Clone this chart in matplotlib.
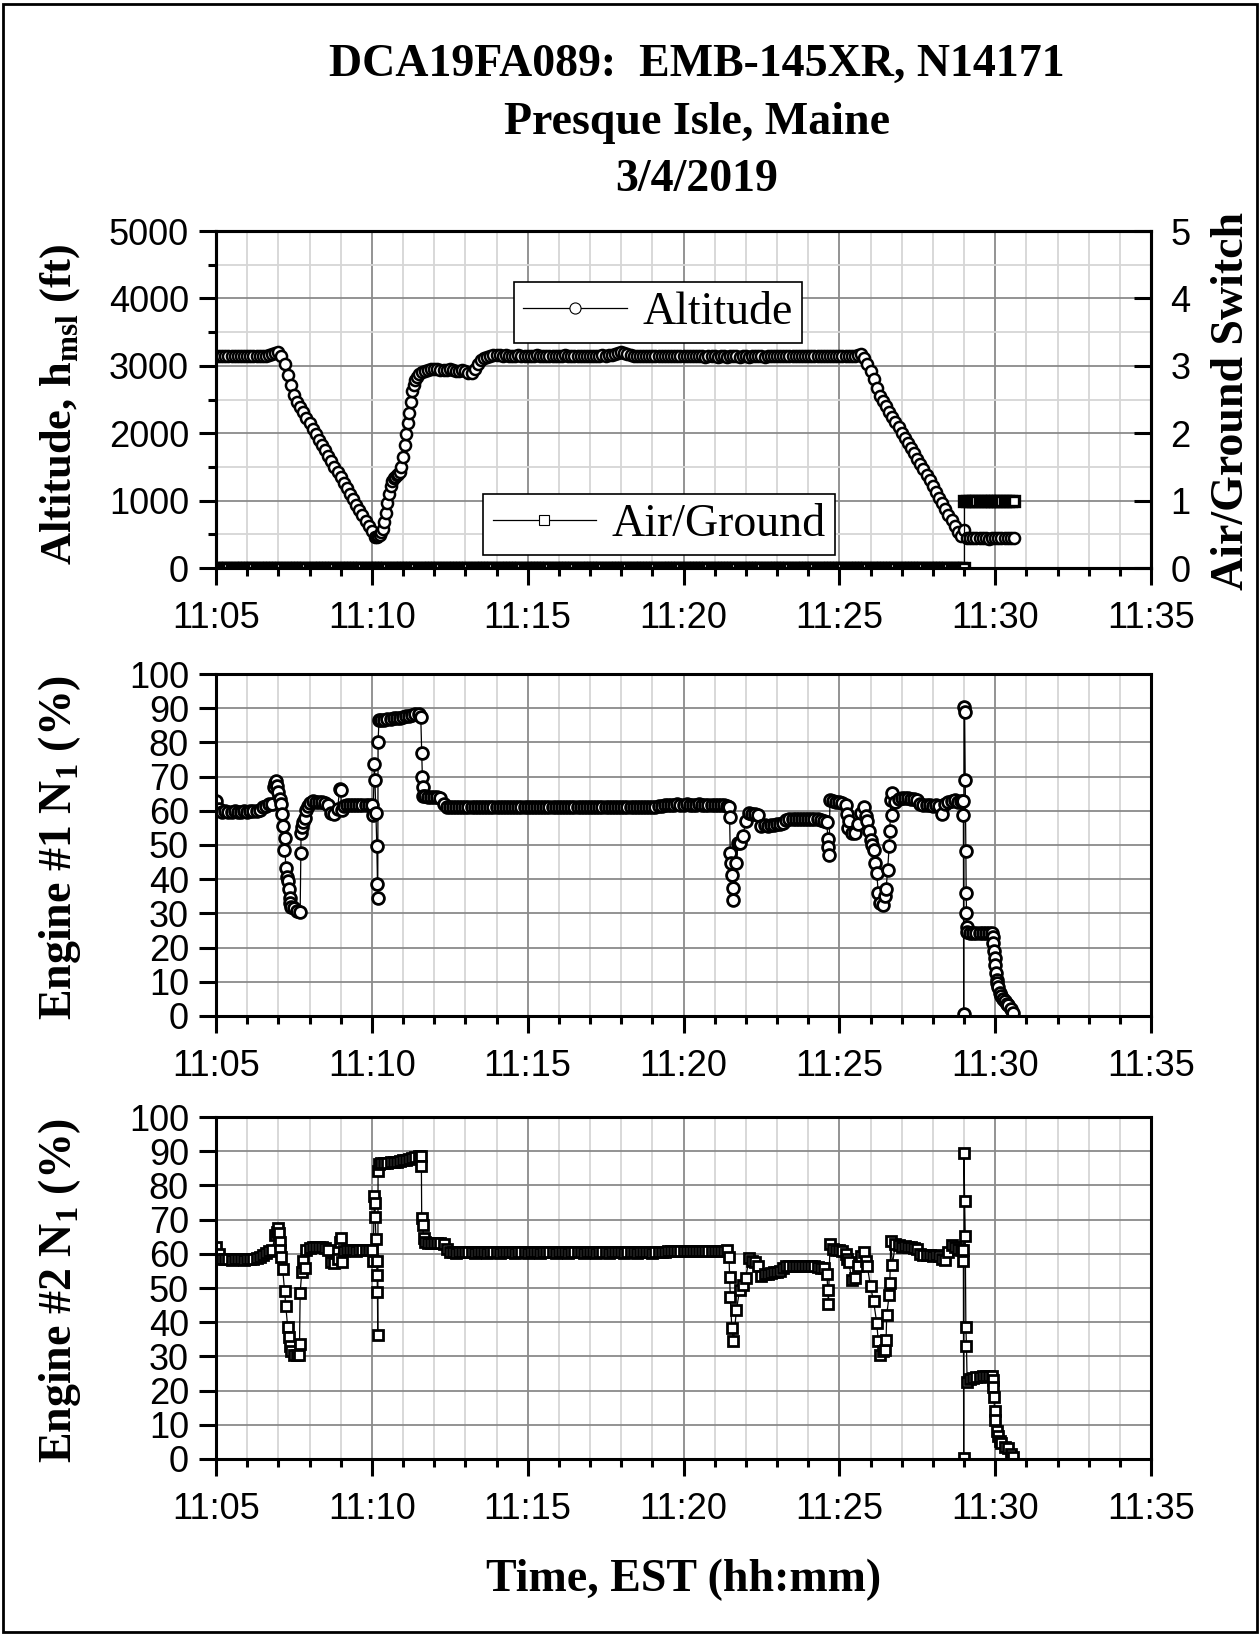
import numpy as np
import matplotlib
matplotlib.use("Agg")
import matplotlib.pyplot as plt
from matplotlib.ticker import MultipleLocator, FuncFormatter
from matplotlib.patches import Rectangle

SERIF = "Liberation Serif"
SANS = "Liberation Sans"

plt.rcParams["font.family"] = [SANS, "DejaVu Sans"]
plt.rcParams["mathtext.fontset"] = "custom"
plt.rcParams["mathtext.rm"] = SERIF + ":bold"
plt.rcParams["mathtext.bf"] = SERIF + ":bold"

# time = minutes after 11:00 EST, recorder samples every 6 s
t_alt = np.round(np.arange(50, 307) / 10.0, 2)   # 11:05:00 .. 11:30:36
t_eng = np.round(np.arange(50, 306) / 10.0, 2)   # 11:05:00 .. 11:30:30

# pressure altitude (ft)
altitude = [
    3140, 3150, 3145, 3140, 3150, 3145, 3140, 3150, 3140, 3145,   # 11:05
    3150, 3140, 3145, 3150, 3145, 3140, 3150, 3155, 3170, 3195,   # 11:06
    3205, 3150, 3020, 2870, 2710, 2560, 2470, 2390, 2315, 2230,   # 11:07
    2150, 2065, 1990, 1905, 1830, 1745, 1665, 1590, 1505, 1425,   # 11:08
    1345, 1265, 1180, 1100, 1020, 940, 860, 780, 700, 620,        # 11:09
    545, 465, 470, 530, 690, 960, 1220, 1330, 1375, 1420,         # 11:10
    1650, 1990, 2300, 2620, 2790, 2880, 2910, 2930, 2940, 2950,   # 11:11
    2955, 2950, 2940, 2935, 2945, 2950, 2940, 2930, 2925, 2935,   # 11:12
    2920, 2890, 2900, 2960, 3030, 3080, 3110, 3135, 3150, 3160,   # 11:13
    3160, 3155, 3150, 3155, 3150, 3145, 3150, 3155, 3150, 3145,   # 11:14
    3150, 3145, 3150, 3155, 3150, 3145, 3150, 3150, 3145, 3150,   # 11:15
    3145, 3150, 3155, 3150, 3145, 3150, 3145, 3150, 3150, 3145,   # 11:16
    3150, 3145, 3150, 3150, 3155, 3150, 3160, 3165, 3175, 3190,   # 11:17
    3200, 3190, 3170, 3155, 3150, 3145, 3150, 3145, 3150, 3145,   # 11:18
    3145, 3150, 3145, 3140, 3145, 3150, 3145, 3140, 3145, 3140,   # 11:19
    3145, 3140, 3145, 3140, 3140, 3145, 3140, 3135, 3140, 3145,   # 11:20
    3140, 3135, 3140, 3140, 3135, 3140, 3145, 3140, 3135, 3140,   # 11:21
    3140, 3135, 3140, 3145, 3140, 3140, 3135, 3140, 3145, 3140,   # 11:22
    3145, 3140, 3150, 3145, 3140, 3145, 3150, 3145, 3140, 3145,   # 11:23
    3150, 3145, 3140, 3145, 3150, 3145, 3140, 3145, 3150, 3145,   # 11:24
    3140, 3145, 3150, 3145, 3140, 3150, 3160, 3180, 3120, 3030,   # 11:25
    2920, 2800, 2670, 2550, 2475, 2400, 2320, 2245, 2165, 2090,   # 11:26
    2010, 1935, 1860, 1780, 1700, 1620, 1545, 1465, 1380, 1300,   # 11:27
    1215, 1130, 1045, 960, 875, 790, 705, 620, 540, 470,          # 11:28
    560, 450, 440, 445, 440, 440, 445, 440, 435, 440,             # 11:29
    440, 445, 440, 440, 440, 445, 440,                            # 11:30
]
# extra samples during the go-around climb
alt_extra_t = [10.15, 10.25, 10.35, 10.45, 10.55, 10.65, 10.75,
               10.85, 10.95, 11.05, 11.15, 11.25, 11.35, 11.45]
alt_extra_v = [462, 490, 580, 820, 1100, 1290, 1355,
               1395, 1500, 1820, 2150, 2460, 2720, 2840]

# air/ground switch, one digit per sample (0 = air, 1 = ground)
air_ground = ("0000000000 0000000000 0000000000 0000000000 0000000000 0000000000 "
              "0000000000 0000000000 0000000000 0000000000 0000000000 0000000000 "
              "0000000000 0000000000 0000000000 0000000000 0000000000 0000000000 "
              "0000000000 0000000000 0000000000 0000000000 0000000000 0000000000 "
              "11111111111111111")
ag_extra_t = [29.0]
ag_extra_v = [0]

# engine #1 N1 (%)
n1_eng1 = [
    62.8, 60.5, 59.7, 59.8, 59.6, 59.7, 59.8, 59.7, 59.6, 59.8,   # 11:05
    59.7, 59.8, 59.9, 60.0, 60.3, 61.0, 61.5, 62.0, 62.0, 68.0,   # 11:06
    65.5, 62.0, 52.0, 39.5, 32.0, 31.5, 30.8, 30.3, 56.8, 60.2,   # 11:07
    62.3, 62.8, 62.7, 62.6, 62.5, 62.3, 61.8, 59.5, 59.2, 60.5,   # 11:08
    66.0, 61.5, 61.7, 61.6, 61.7, 61.8, 61.7, 61.6, 61.7, 61.8,   # 11:09
    61.7, 69.0, 80.2, 86.6, 86.7, 86.8, 86.8, 87.0, 87.1, 87.2,   # 11:10
    87.4, 87.6, 87.8, 88.0, 88.2, 88.4, 77.0, 64.2, 64.0, 64.1,   # 11:11
    64.0, 63.9, 63.8, 62.0, 61.2, 61.1, 61.0, 61.1, 61.2, 61.1,   # 11:12
    61.0, 61.1, 61.2, 61.1, 61.0, 61.1, 61.2, 61.1, 61.0, 61.1,   # 11:13
    61.2, 61.1, 61.0, 61.1, 61.1, 61.2, 61.1, 61.0, 61.1, 61.2,   # 11:14
    61.1, 61.0, 61.1, 61.2, 61.1, 61.1, 61.0, 61.1, 61.2, 61.1,   # 11:15
    61.0, 61.1, 61.1, 61.2, 61.1, 61.0, 61.1, 61.2, 61.1, 61.1,   # 11:16
    61.1, 61.2, 61.1, 61.0, 61.1, 61.1, 61.2, 61.1, 61.0, 61.1,   # 11:17
    61.2, 61.1, 61.1, 61.0, 61.1, 61.2, 61.1, 61.1, 61.0, 61.1,   # 11:18
    61.1, 61.2, 61.3, 61.5, 61.8, 61.8, 61.7, 61.8, 61.9, 61.8,   # 11:19
    61.8, 61.9, 61.8, 61.7, 61.8, 61.9, 61.8, 61.7, 61.8, 61.8,   # 11:20
    61.8, 61.7, 61.8, 61.7, 61.5, 47.6, 34.0, 44.7, 50.5, 52.5,   # 11:21
    57.0, 59.3, 59.0, 59.2, 58.8, 55.5, 55.8, 55.7, 55.8, 55.9,   # 11:22
    56.0, 56.0, 56.5, 57.3, 57.5, 57.6, 57.5, 57.7, 57.6, 57.5,   # 11:23
    57.6, 57.7, 57.6, 57.5, 57.3, 57.0, 56.7, 63.2, 62.8, 62.6,   # 11:24
    62.5, 62.4, 61.7, 57.0, 53.4, 53.5, 56.0, 59.5, 61.2, 57.0,   # 11:25
    51.5, 48.6, 41.8, 33.0, 32.5, 37.0, 49.7, 58.8, 62.5, 63.5,   # 11:26
    63.6, 63.7, 63.6, 63.5, 63.4, 63.3, 62.0, 61.7, 61.6, 61.7,   # 11:27
    61.5, 61.6, 61.5, 59.0, 62.0, 62.5, 63.0, 63.2, 62.5, 62.8,   # 11:28
    90.5, 24.5, 24.3, 24.2, 24.3, 24.2, 24.3, 24.2, 24.3, 24.2,   # 11:29
    15.0, 8.5, 5.8, 4.4, 3.3, 2.0,                                # 11:30
]
eng1_extra_t = [6.87, 6.93, 6.97, 7.05, 7.13, 7.16, 7.19, 7.24, 7.27, 7.33, 7.36, 7.38,
                7.72, 7.73, 7.75, 7.85, 7.95, 8.97, 9.03,
                10.04, 10.08, 10.13, 10.16, 10.18, 10.19, 10.23,
                11.57, 11.62, 11.63, 11.65,
                21.45, 21.48, 21.54, 21.57, 21.59, 21.75,
                24.63, 24.65, 24.67, 25.25, 25.28,
                25.85, 25.95, 26.05, 26.15, 26.25, 26.45, 26.55, 26.62, 26.65, 26.68,
                28.97, 28.98, 28.99, 29.02, 29.04, 29.06, 29.07, 29.08, 29.09,
                29.92, 29.94, 29.96, 29.98, 30.02, 30.05, 30.07, 30.15, 30.26, 30.39, 30.58]
eng1_extra_v = [67.0, 68.6, 67.2, 63.5, 59.0, 55.6, 48.6, 43.2, 40.7, 37.0, 34.4, 32.9,
                47.6, 53.4, 55.4, 58.0, 61.5, 66.5, 60.2,
                58.8, 73.6, 59.5, 49.7, 38.5, 34.4, 86.5,
                87.5, 70.0, 67.0, 64.2,
                61.0, 58.1, 44.7, 41.3, 37.4, 50.5,
                51.8, 49.4, 47.0, 59.0, 55.0,
                58.5, 54.0, 50.0, 44.7, 35.9, 35.0, 42.8, 54.0, 63.2, 65.2,
                63.0, 58.8, 0.5, 88.8, 69.1, 48.1, 35.9, 30.0, 26.0,
                23.0, 21.4, 19.0, 17.0, 12.6, 10.5, 9.7, 6.8, 4.9, 3.4, 0.8]

# engine #2 N1 (%)
n1_eng2 = [
    62.0, 60.0, 58.4, 58.5, 58.4, 58.3, 58.4, 58.5, 58.4, 58.3,   # 11:05
    58.4, 58.5, 58.6, 58.8, 59.2, 59.8, 60.3, 60.8, 61.0, 65.5,   # 11:06
    67.5, 59.1, 49.2, 38.7, 31.5, 30.5, 30.3, 48.5, 58.0, 61.0,   # 11:07
    61.8, 62.0, 62.1, 62.0, 61.9, 61.7, 61.0, 57.5, 57.2, 58.5,   # 11:08
    64.5, 60.8, 61.0, 61.1, 61.0, 60.9, 61.0, 61.1, 61.0, 61.2,   # 11:09
    61.0, 75.0, 84.3, 86.5, 86.6, 86.7, 86.8, 86.9, 87.0, 87.1,   # 11:10
    87.3, 87.5, 87.7, 87.9, 88.2, 88.5, 70.6, 63.4, 63.3, 63.2,   # 11:11
    63.3, 63.2, 63.1, 63.0, 61.5, 60.5, 60.4, 60.3, 60.4, 60.5,   # 11:12
    60.4, 60.5, 60.4, 60.3, 60.4, 60.5, 60.4, 60.3, 60.4, 60.5,   # 11:13
    60.4, 60.3, 60.4, 60.5, 60.4, 60.4, 60.3, 60.4, 60.5, 60.4,   # 11:14
    60.3, 60.4, 60.5, 60.4, 60.3, 60.4, 60.4, 60.5, 60.4, 60.3,   # 11:15
    60.4, 60.5, 60.4, 60.3, 60.4, 60.5, 60.4, 60.4, 60.3, 60.4,   # 11:16
    60.5, 60.4, 60.3, 60.4, 60.5, 60.4, 60.3, 60.4, 60.4, 60.5,   # 11:17
    60.4, 60.3, 60.4, 60.5, 60.4, 60.3, 60.4, 60.5, 60.4, 60.4,   # 11:18
    60.3, 60.4, 60.5, 60.4, 60.5, 60.7, 60.8, 60.9, 60.8, 60.9,   # 11:19
    60.8, 60.9, 60.8, 60.9, 60.8, 60.9, 60.9, 60.8, 60.9, 60.8,   # 11:20
    60.9, 60.8, 60.9, 60.8, 61.0, 47.5, 34.4, 43.6, 49.5, 51.0,   # 11:21
    53.0, 58.7, 58.0, 57.5, 56.5, 53.5, 54.0, 54.2, 54.5, 54.6,   # 11:22
    54.8, 55.0, 55.8, 56.3, 56.4, 56.5, 56.4, 56.5, 56.4, 56.3,   # 11:23
    56.4, 56.5, 56.3, 56.2, 56.0, 56.0, 54.2, 63.0, 61.5, 61.2,   # 11:24
    61.0, 60.8, 60.0, 57.7, 52.3, 53.0, 56.5, 59.5, 60.6, 56.3,   # 11:25
    50.5, 46.1, 39.8, 30.5, 31.5, 34.9, 48.0, 56.8, 63.0, 62.5,   # 11:26
    62.1, 62.2, 62.0, 61.9, 61.8, 61.5, 60.0, 59.7, 59.6, 59.7,   # 11:27
    59.5, 59.6, 59.5, 58.5, 58.2, 60.5, 62.5, 62.0, 61.5, 61.0,   # 11:28
    89.6, 22.5, 23.3, 23.8, 24.0, 24.1, 24.2, 24.2, 24.3, 24.2,   # 11:29
    11.5, 6.8, 4.8, 3.6, 3.1, 1.5,                                # 11:30
]
eng2_extra_t = [6.95, 7.02, 7.04, 7.06, 7.14, 7.24, 7.33, 7.37, 7.67, 7.68, 7.75, 7.85,
                8.98, 9.03,
                10.04, 10.08, 10.11, 10.13, 10.15, 10.17, 10.18, 10.19, 10.22,
                11.57, 11.59, 11.63, 11.66,
                21.46, 21.48, 21.55, 24.63, 24.65, 25.25,
                25.85, 26.25, 26.45, 26.52, 26.62, 26.65,
                28.97, 28.98, 28.99, 29.02, 29.04, 29.06, 29.08,
                29.93, 29.94, 29.96, 29.98, 30.05, 30.15, 30.58]
eng2_extra_v = [66.5, 66.0, 63.5, 61.0, 55.5, 44.6, 35.6, 33.0, 30.4, 33.5, 54.6, 56.0,
                63.5, 57.5,
                58.0, 77.0, 70.9, 64.2, 58.0, 53.8, 48.7, 36.4, 86.2,
                88.5, 85.7, 68.4, 64.7,
                59.2, 53.3, 38.3, 49.3, 45.4, 58.5,
                58.0, 34.4, 32.0, 42.2, 51.4, 63.7,
                61.0, 58.0, 0.3, 75.5, 65.3, 38.5, 33.0,
                23.0, 21.0, 18.0, 14.0, 8.3, 5.4, 0.5]


def merged(t, v, extra_t, extra_v):
    tt = np.concatenate([np.asarray(extra_t, float), np.asarray(t, float)])
    vv = np.concatenate([np.asarray(extra_v, float), np.asarray(v, float)])
    order = np.argsort(tt, kind="stable")
    return tt[order], vv[order]


def setup(ax):
    ax.set_xlim(5, 35)
    ax.xaxis.set_major_locator(MultipleLocator(5))
    ax.xaxis.set_minor_locator(MultipleLocator(1))
    ax.xaxis.set_major_formatter(FuncFormatter(lambda v, p: "11:%02d" % round(v)))
    ax.grid(which="major", color="#8a8a8a", lw=1.3)
    ax.grid(which="minor", color="#d6d6d6", lw=1.3)
    ax.set_axisbelow(True)
    ax.tick_params(which="both", direction="out", width=2.2, top=False, right=False,
                   labelsize=26)
    ax.tick_params(which="major", length=12.5)
    ax.tick_params(which="minor", length=6)
    ax.tick_params(axis="x", pad=11.5)
    ax.tick_params(axis="y", pad=7)
    for s in ax.spines.values():
        s.set_linewidth(2.2)


fig = plt.figure(figsize=(12.6, 16.36), dpi=100)
L, W = 216 / 1260, 935 / 1260
ax1 = fig.add_axes([L, 0.6528, W, 0.2060])
ax2 = fig.add_axes([L, 0.3790, W, 0.2090])
ax3 = fig.add_axes([L, 0.1082, W, 0.2090])
for ax in (ax1, ax2, ax3):
    setup(ax)

mk = dict(color="black", lw=0.9, mfc="white", mec="black", mew=2.0)

# altitude / air-ground
ta, va = merged(t_alt, altitude, alt_extra_t, alt_extra_v)
h_alt, = ax1.plot(ta, va, marker="o", ms=8, **dict(mk, mew=1.8))
ax1.set_ylim(0, 5000)
ax1.yaxis.set_major_locator(MultipleLocator(1000))
ax1.yaxis.set_minor_locator(MultipleLocator(500))

ax1b = ax1.twinx()
ag_vals = [int(c) for c in air_ground if c in "01"]
tg, vg = merged(t_alt, ag_vals, ag_extra_t, ag_extra_v)
h_ag, = ax1b.plot(tg, vg, marker="s", ms=6.5, **dict(mk, mew=2.4))
ax1b.set_ylim(0, 5)
ax1b.yaxis.set_major_locator(MultipleLocator(1))
ax1b.tick_params(axis="y", direction="in", length=12.5, width=2.2, labelsize=26, pad=14)
for s in ax1b.spines.values():
    s.set_linewidth(2.2)

leg_font = dict(family=SERIF, size=33)
leg_kw = dict(loc="upper left", borderaxespad=0, fancybox=False, edgecolor="black",
              framealpha=1, prop=leg_font, handlelength=2.25, handletextpad=0.35,
              borderpad=0.2, numpoints=1)
leg1 = ax1b.legend([h_alt], ["Altitude"], bbox_to_anchor=(0.319, 0.849), **leg_kw)
leg1.get_frame().set_linewidth(1.2)
ax1b.add_artist(leg1)
leg2 = ax1b.legend([h_ag], ["Air/Ground"], bbox_to_anchor=(0.286, 0.220), **leg_kw)
leg2.get_frame().set_linewidth(1.2)
for lg in (leg1, leg2):
    for hl in lg.legend_handles:
        hl.set_markeredgewidth(0.8)

# engines
t1, v1 = merged(t_eng, n1_eng1, eng1_extra_t, eng1_extra_v)
ax2.plot(t1, v1, marker="o", ms=8.5, **mk)
t2, v2 = merged(t_eng, n1_eng2, eng2_extra_t, eng2_extra_v)
ax3.plot(t2, v2, marker="s", ms=7.5, **mk)
for ax in (ax2, ax3):
    ax.set_ylim(0, 100)
    ax.yaxis.set_major_locator(MultipleLocator(10))

lab = dict(family=SERIF, fontweight="bold", fontsize=33, ha="center", va="center")
fig.text(697 / 1260, 1 - 65 / 1636, "DCA19FA089:  EMB-145XR, N14171", **lab)
fig.text(697 / 1260, 1 - 123 / 1636, "Presque Isle, Maine", **lab)
fig.text(697 / 1260, 1 - 180 / 1636, "3/4/2019", **lab)
fig.text(60 / 1260, 1 - 404 / 1636, r"Altitude, h$_{\mathbf{msl}}$ (ft)", rotation=90,
         **dict(lab, fontsize=32))
fig.text(60 / 1260, 1 - 847 / 1636, r"Engine #1 N$_{\mathbf{1}}$ (%)", rotation=90, **lab)
fig.text(60 / 1260, 1 - 1290 / 1636, r"Engine #2 N$_{\mathbf{1}}$ (%)", rotation=90, **lab)
fig.text(1232 / 1260, 1 - 401 / 1636, "Air/Ground Switch", rotation=90, **lab)
fig.text(683.5 / 1260, 1 - 1580 / 1636, "Time, EST (hh:mm)", **lab)

fig.patches.append(Rectangle((3 / 1260, 4 / 1636), 1254 / 1260, 1628 / 1636,
                             transform=fig.transFigure, fill=False, lw=2, ec="black"))

fig.savefig("out.png", dpi=100)
